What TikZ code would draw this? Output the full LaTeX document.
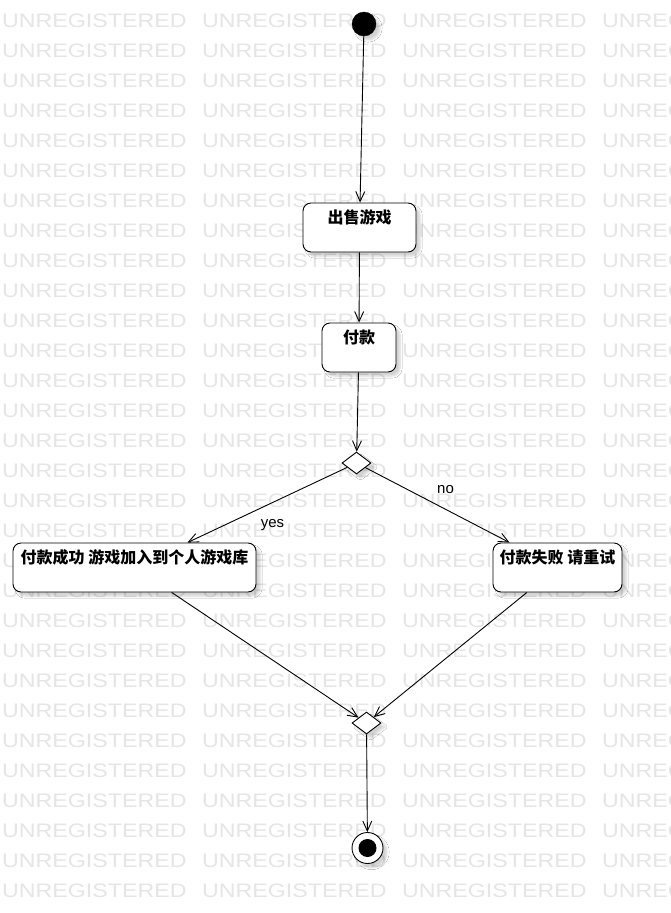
\documentclass[tikz,border=0pt]{standalone}
\usepackage{fontspec}
\setmainfont{Liberation Sans}
\newfontfamily\cjk{Noto Sans CJK SC}
\usetikzlibrary{shapes.geometric,arrows.meta,shadows.blur}

\newcommand{\wmword}{\scalebox{1.19}[1]{UNREGISTERED}}

\begin{document}
\begin{tikzpicture}[x=1pt, y=-1pt,
		flow/.style={draw=black, line width=0.9pt, -{Straight Barb[length=10pt,width=9pt,line width=0.9pt]}},
		fshadow/.style={blur shadow={shadow xshift=4pt, shadow yshift=-4pt, shadow opacity=18, shadow blur steps=6}},
		actbox/.style={draw, line width=0.9pt, fill=white, rounded corners=8pt, fshadow, inner xsep=0pt, inner ysep=0pt, minimum height=49pt, text height=20.5pt, text depth=28.5pt, font=\fontsize{16}{18}\cjk\bfseries},
		decision/.style={diamond, draw, line width=0.9pt, fill=white, fshadow, minimum width=29pt, minimum height=22pt, inner sep=0pt},
		start/.style={circle, draw=black, fill=black, fshadow, minimum size=24pt, inner sep=0pt},
		stopring/.style={circle, draw, line width=0.9pt, fill=white, fshadow, minimum size=31pt, inner sep=0pt},
		stopdot/.style={circle, fill=black, minimum size=18pt, inner sep=0pt},
		guard/.style={anchor=base, inner sep=0pt, font=\fontsize{15}{17}\selectfont},
		wmark/.style={anchor=base west, inner sep=0pt, text=black!10, font=\fontsize{19.5}{20}\selectfont}]
		\useasboundingbox (0, 0) rectangle (671, 913);
		\fill[white] (0, 0) rectangle (671, 913);
		
		\begin{scope}
			\clip (0, 0) rectangle (671, 913);
			\foreach \r in {0,...,29}
				\foreach \c in {0,...,3}
					\node[wmark] (wm-\r-\c) at (2+200*\c, 27+30*\r) {\wmword};
		\end{scope}
		
		\node[start] (init) at (364, 24) {};
		\node[actbox, minimum width=113pt] (sell) at (359.5, 227.5) {出售游戏};
		\node[actbox, minimum width=74pt] (pay) at (359, 347.5) {付款};
		\node[decision] (check) at (356.5, 463) {};
		\node[actbox, minimum width=243pt] (added) at (134.5, 567.5) {付款成功 游戏加入到个人游戏库};
		\node[actbox, minimum width=129pt] (retry) at (557.5, 567.5) {付款失败 请重试};
		\node[decision] (merge) at (366.5, 723) {};
		\node[stopring] (final) at (367.5, 848) {};
		\node[stopdot] (finaldot) at (final) {};
		
		\node[guard] (yes) at (272.5, 527) {yes};
		\node[guard] (no) at (445.5, 493) {no};
		
		\draw[flow] (init) -- (sell);
		\draw[flow] (sell) -- (pay);
		\draw[flow] (pay) -- (check);
		\draw[flow] (check) -- (added);
		\draw[flow] (check) -- (retry);
		\draw[flow] (added) -- (merge);
		\draw[flow] (retry) -- (merge);
		\draw[flow] (merge) -- (final);
	\end{tikzpicture}
\end{document}
